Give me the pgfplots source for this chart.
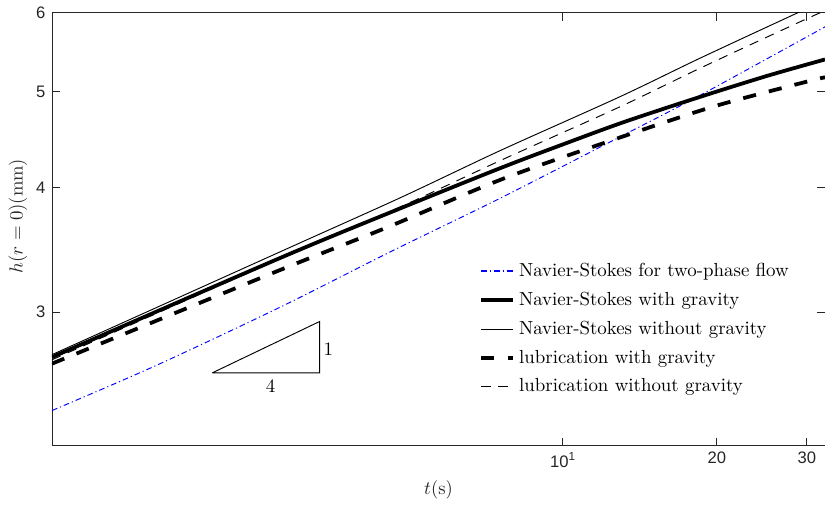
\documentclass[border=0pt]{standalone}
\usepackage{fontspec}
\usepackage{pgfplots}
\pgfplotsset{compat=1.18}
\newfontfamily\helv{Liberation Sans}
\definecolor{axgray}{rgb}{0.15,0.15,0.15}
\definecolor{mblue}{rgb}{0,0,1}
\begin{document}
\begin{tikzpicture}
\begin{axis}[
  at={(0pt,0pt)}, anchor=south west,
  scale only axis, width=409pt, height=229pt,
  xmode=log, ymode=log,
  xmin=1, xmax=32.57, ymin=2.2025, ymax=6,
  xtick={10,20,30},
  xticklabels={\mbox{\helv 10\textsuperscript{1}},\mbox{\helv 20},\mbox{\helv 30}},
  ytick={3,4,5,6},
  yticklabels={\mbox{\helv 3},\mbox{\helv 4},\mbox{\helv 5},\mbox{\helv 6}},
  minor xtick={}, minor ytick={},
  tick align=inside, tick pos=both,
  major tick length=4.2pt,
  axis line style={axgray, line width=0.5pt},
  every tick/.style={axgray, line width=0.5pt},
  tick label style={font=\helv\fontsize{8.8}{10}\selectfont, text=axgray},
  xlabel={$t$(s)}, ylabel={$h(r=0)$(mm)},
  label style={font=\fontsize{9.8}{11}\selectfont, text=axgray},
  xlabel style={at={(axis description cs:0.5,-0.1017)}, anchor=center},
  ylabel style={at={(axis description cs:-0.044,0.53)}, anchor=center},
  legend style={fill=none, draw=none, at={(0.545,0.44)}, anchor=north west,
    font=\fontsize{10}{12}\selectfont, row sep=2.8pt},
  legend cell align=left,
]
\addplot[color=mblue, draw=mblue, line width=0.5pt, smooth, dash pattern=on 3pt off 1.6pt on 0.6pt off 1.6pt,
  legend image code/.code={\begingroup\color{mblue}\draw[color=mblue, line width=0.6pt, dash pattern=on 3pt off 1.6pt on 0.6pt off 1.6pt] (0cm,0cm) -- (0.6cm,0cm);\endgroup}]
 coordinates {(1,2.388) (1.597,2.650) (2.80,3.035) (4.60,3.450) (7.54,3.905) (13.42,4.545) (18.55,4.955) (32.57,5.806)};
\addlegendentry{Navier-Stokes for two-phase flow}
\addplot[color=black, line width=2pt, smooth]
 coordinates {(1,2.702) (2.80,3.401) (4.81,3.815) (7.54,4.186) (10,4.423) (13.2,4.66) (18.55,4.937) (25,5.18) (32.57,5.384)};
\addlegendentry{Navier-Stokes with gravity}
\addplot[color=black, line width=0.5pt, smooth]
 coordinates {(1,2.718) (2.80,3.45) (4.81,3.91) (7.54,4.36) (12.94,4.94) (18.55,5.40) (28.84,6.0) (32.57,6.17)};
\addlegendentry{Navier-Stokes without gravity}
\addplot[color=black, line width=2pt, smooth, dash pattern=on 7pt off 7pt]
 coordinates {(1,2.662) (2.80,3.308) (4.535,3.651) (7.54,4.074) (12.37,4.459) (19.67,4.826) (30.86,5.133) (32.57,5.16)};
\addlegendentry{lubrication with gravity}
\addplot[color=black, line width=0.5pt, smooth, dash pattern=on 5pt off 4pt]
 coordinates {(1,2.686) (2.80,3.395) (4.81,3.828) (7.54,4.26) (12.94,4.826) (18.55,5.276) (28.84,5.862) (32.57,6.028)};
\addlegendentry{lubrication without gravity}
\addplot[color=black, line width=0.5pt, forget plot]
 coordinates {(2.06,2.606) (3.34,2.606) (3.34,2.935) (2.06,2.606)};
\node[font=\fontsize{10}{12}\selectfont] at (axis cs:3.476,2.75) {1};
\node[font=\fontsize{10}{12}\selectfont] at (axis cs:2.678,2.53) {4};
\end{axis}
\pgfresetboundingbox
\useasboundingbox (-27.5pt,-33.3pt) rectangle (409pt,235.7pt);
\end{tikzpicture}
\end{document}
